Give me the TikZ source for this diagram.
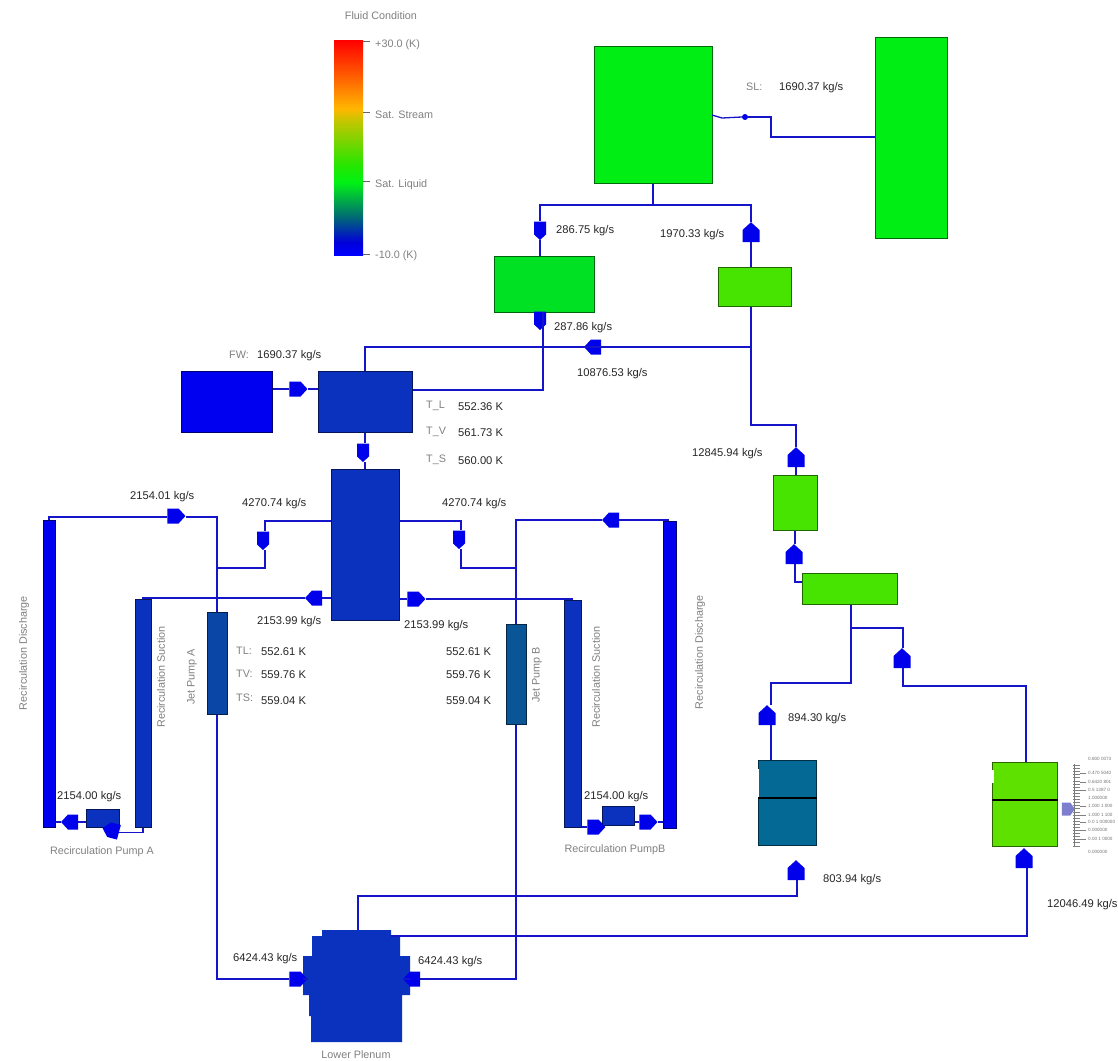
\documentclass[tikz,border=0pt]{standalone}
\usepackage{fontspec}
\setmainfont{Liberation Sans}
\usetikzlibrary{shapes.symbols}
\definecolor{lnblue}{RGB}{20,20,200}
\definecolor{vblue}{RGB}{0,0,235}
\definecolor{grA}{RGB}{0,238,20}
\definecolor{grB}{RGB}{0,225,35}
\definecolor{limeA}{RGB}{70,228,0}
\definecolor{limeB}{RGB}{95,225,0}
\definecolor{pureblue}{RGB}{0,0,240}
\definecolor{dkblue}{RGB}{10,50,190}
\definecolor{jetA}{RGB}{10,70,165}
\definecolor{jetB}{RGB}{10,85,150}
\definecolor{teal1}{RGB}{5,105,150}
\pgfdeclareverticalshading{fluidbar}{100bp}{
 rgb(0bp)=(0,0,1);
 rgb(25bp)=(0,0,1);
 rgb(28bp)=(0,0,0.85);
 rgb(34bp)=(0,0.42,0.45);
 rgb(42bp)=(0,0.95,0.08);
 rgb(46bp)=(0.15,0.9,0);
 rgb(56bp)=(0.75,0.78,0);
 rgb(59bp)=(1,0.72,0);
 rgb(67bp)=(1,0.35,0);
 rgb(75bp)=(1,0,0);
 rgb(100bp)=(1,0,0)}
\tikzset{
 x=1pt,y=-1pt,
 comp/.style={draw=black!55!#1,line width=.6pt,fill=#1,inner sep=0pt,anchor=north west},
 flow/.style={draw=lnblue,line width=1.3pt},
 valve/.style={signal,signal to=#1,signal pointer angle=95,fill=vblue,draw=none,inner sep=0pt},
 vE/.style={valve=east,minimum width=18pt,minimum height=15pt},
 vW/.style={valve=west,minimum width=17pt,minimum height=15pt},
 vN/.style={valve=north,minimum width=17pt,minimum height=12pt,yshift=-3pt},
 vS/.style={valve=south,minimum width=12pt,minimum height=13pt},
 lab/.style={font=\fontsize{10.8}{12}\selectfont,text=black!50,inner sep=0pt},
 labw/.style={lab,anchor=west,yshift=-1.2pt},
 labb/.style={font=\fontsize{11.2}{12}\selectfont,text=black!85,inner sep=0pt,anchor=west,yshift=-1.5pt},
 tiny/.style={font=\fontsize{4.6}{5}\selectfont,text=black!55,inner sep=0pt,anchor=west},
}
\newcommand{\boxat}[6]{\node[comp=#6,minimum width=#4pt-#2pt,minimum height=#5pt-#3pt] (#1) at (#2,#3) {};}
\begin{document}
\begin{tikzpicture}
\useasboundingbox (0,0) rectangle (1118,1060);
% legend
\node[lab] (tFluid) at (381,16) {Fluid Condition};
\node[inner sep=0pt,anchor=north west,minimum width=29pt,minimum height=215pt,shading=fluidbar,draw=none] (bar) at (334,40) {};
\node[labw] (l1) at (375,44) {+30.0 (K)};
\node[labw] (l2) at (375,114) {Sat. Stream};
\node[labw] (l3) at (375,184) {Sat. Liquid};
\node[labw] (l4) at (375,255) {-10.0 (K)};
\draw[black!60,line width=.5pt] (363,41) -- (370,41);
\draw[black!60,line width=.5pt] (363,112) -- (370,112);
\draw[black!60,line width=.5pt] (363,181) -- (370,181);
\draw[black!60,line width=.5pt] (363,254) -- (370,254);
% components
\boxat{sep}{594}{46}{712}{183}{grA}
\boxat{turb}{875}{37}{947}{238}{grA}
\boxat{cA}{494}{256}{594}{312}{grB}
\boxat{cB}{718}{267}{791}{306}{limeA}
\boxat{fw}{181}{371}{272}{432}{pureblue}
\boxat{dome}{318}{371}{412}{432}{dkblue}
\boxat{vess}{331}{469}{399}{620}{dkblue}
\boxat{gA}{773}{475}{817}{530}{limeA}
\boxat{hA}{802}{573}{897}{604}{limeA}
\boxat{jpA}{207}{612}{227}{714}{jetA}
\boxat{jpB}{506}{624}{526}{724}{jetB}
\boxat{disL}{43}{520}{55}{827}{pureblue}
\boxat{sucL}{135}{599}{151}{827}{dkblue}
\boxat{sucR}{564}{600}{581}{827}{dkblue}
\boxat{disR}{663}{521}{676}{828}{pureblue}
\boxat{pumpA}{86}{809}{119}{827}{dkblue}
\boxat{pumpB}{602}{806}{634}{825}{dkblue}
\boxat{tkT}{758}{760}{816}{845}{teal1}
\boxat{tkL}{992}{762}{1057}{846}{limeB}
\draw[black,line width=1.1pt] (tkT.west |- 0,798) -- (tkT.east |- 0,798);
\draw[black,line width=1.1pt] (tkL.west |- 0,800) -- (tkL.east |- 0,800);
\fill[white] (757.5,769) rectangle (759,797);
\fill[white] (991.5,770) rectangle (994,783);
\draw[black!55!dkblue,line width=1pt] (318,371.5) -- (412,371.5);
% lower plenum
\fill[dkblue] (322,930) -- (391,930) -- (391,936) -- (400,936) -- (400,956) -- (410,956) -- (410,995) -- (402,995) -- (402,1042) -- (311,1042) -- (311,1016) -- (309,1016) -- (309,995) -- (303,995) -- (303,956) -- (312,956) -- (312,936) -- (322,936) -- cycle;
\coordinate (plTop) at (358,930);
\coordinate (plRight) at (391,936);
\coordinate (plL) at (303,979);
\coordinate (plR) at (410,979);
% valves
\node[vS] (v1) at (540,228) {};
\node[vN] (v2) at (751,233) {};
\node[vS] (v3) at (540,318) {};
\node[vW] (v4) at (596,347) {};
\node[vE] (vfw) at (295,389) {};
\node[vS] (v5) at (363,450) {};
\node[vN] (v6) at (796,458) {};
\node[vN] (v7) at (794,555) {};
\node[vN] (v8) at (902,659) {};
\node[vN] (v9) at (767,716) {};
\node[vN] (v10) at (796,871) {};
\node[vN] (v11) at (1024,859) {};
\node[vE] (v12) at (173,516) {};
\node[vW] (v13) at (614,520) {};
\node[vS] (v14) at (263,538) {};
\node[vS] (v15) at (459,537) {};
\node[vW] (v16) at (317,598) {};
\node[vE] (v17) at (413,599) {};
\node[vE] (v18) at (295,979) {};
\node[vW] (v19) at (415,979) {};
\node[vW] (v20) at (73,822) {};
\node[vW,rotate=-15] (v21) at (114,831) {};
\node[vE] (v22) at (593,827) {};
\node[vE] (v23) at (645,822) {};
\node[fill=vblue,circle,inner sep=0pt,minimum size=6pt] (v24) at (745,117) {};
% connectors
\draw[flow] (sep.south -| 653,0) |- (540,205) -- (v1.north);
\draw[flow] (v1.south) -- (v1.south |- cA.north);
\draw[flow] (653,205) -| (v2.north);
\draw[flow] (v2.south) -- (v2.south |- cB.north);
\draw[flow] (712,115) -- (722,118) -- (v24.west);
\draw[flow] (v24.east) -- (771,117) |- (turb.west |- 0,137);
\draw[flow] (543,312) -- (543,390) -- (dome.east |- 0,390);
\draw[flow] (dome.north -| 365,0) |- (v4.east);
\draw[flow] (v4.west) -- (543,347);
\draw[flow] (v4.east) -- (751,347);
\draw[flow] (cB.south -| 751,0) -- (751,425) -| (v6.north);
\draw[flow] (v6.south) -- (v6.south |- gA.north);
\draw[flow] (gA.south -| 795,0) -- (v7.north -| 795,0);
\draw[flow] (v7.south -| 795,0) |- (hA.west |- 0,582);
\draw[flow] (hA.south -| 851,0) -- (851,683) -| (v9.north -| 771,0);
\draw[flow] (v9.south -| 771,0) -- (tkT.north -| 771,0);
\draw[flow] (851,628) -| (v8.north -| 903,0);
\draw[flow] (v8.south -| 903,0) |- (1026,686) -- (tkL.north -| 1026,0);
\draw[flow] (plTop) |- (797,896) -- (v10.south -| 797,0);
\draw[flow] (plRight) -| (v11.south -| 1027,0);
\draw[flow] (disL.north -| 49,0) |- (v12.west |- 0,517);
\draw[flow] (v12.east |- 0,517) -- (217,517) -- (jpA.north -| 217,0);
\draw[flow] (jpA.south -| 217,0) |- (v18.west);
\draw[flow] (v18.east) -- (plL);
\draw[flow] (vess.west |- 0,521) -| (v14.north -| 265,0);
\draw[flow] (v14.south -| 265,0) |- (217,568);
\draw[flow] (vess.west |- 0,598) -- (v16.east);
\draw[flow] (v16.west) -| (sucL.north -| 143,0);
\draw[flow] (vess.east |- 0,521) -| (v15.north -| 461,0);
\draw[flow] (v15.south -| 461,0) |- (516,568);
\draw[flow] (vess.east |- 0,599) -- (v17.west);
\draw[flow] (v17.east) -| (sucR.north -| 572,0);
\draw[flow] (jpB.north -| 516,0) |- (v13.west);
\draw[flow] (v13.east) -| (disR.north -| 668,0);
\draw[flow] (jpB.south -| 516,0) |- (v19.east);
\draw[flow] (v19.west) -- (plR);
\draw[flow] (dome.south -| 365,0) -- (v5.north -| 365,0);
\draw[flow] (v5.south -| 365,0) -- (vess.north -| 365,0);
\draw[flow] (fw.east |- 0,389) -- (vfw.west);
\draw[flow] (vfw.east) -- (dome.west |- 0,389);
\draw[flow] (sucL.south -| 143,0) |- (v21.east);
\draw[flow] (v20.east) -- (pumpA.west |- 0,822);
\draw[flow] (v20.west) -- (disL.east |- 0,822);
\draw[flow] (sucR.east |- 0,827) -- (v22.west);
\draw[flow] (pumpB.east |- 0,822) -- (v23.west);
\draw[flow] (v23.east) -- (disR.west |- 0,822);
% sensor ladder
\node[signal,signal to=east,signal pointer angle=110,fill=blue!45!gray!70,inner sep=0pt,minimum width=13pt,minimum height=13pt] (sens) at (1066,809) {};
\draw[black!55,line width=.8pt] (1074,764) -- (1074,847);
\foreach \y in {765,768,771,774,777,781,784,787,790,793,796,799,802,805,808,812,815,818,821,824,827,830,833,836,839,842,846}
  \draw[black!50,line width=.5pt] (1073,\y) -- (1080,\y);
\foreach \y in {773,782,790,806,815,822,830,839}
  \draw[black!50,line width=.5pt] (1080,\y) -- (1086,\y);
\foreach \y/\t in {759/0.800 0073,773/0.470 5040,782/0.6420 801,790/0.5 1387 0,798/1.000000,806/1.000 1 000,815/1.000 1 100,822/0.0 1 000000,830/0.000000,839/0.00 1 0000,852/0.000000}
  \node[tiny] at (1088,\y) {\t};
% texts
\node[labw] at (746,86) {SL:};
\node[labb] at (779,86) {1690.37 kg/s};
\node[labb] at (556,229) {286.75 kg/s};
\node[labb] at (660,233) {1970.33 kg/s};
\node[labb] at (554,326) {287.86 kg/s};
\node[labb] at (577,372) {10876.53 kg/s};
\node[labw] at (229,354) {FW:};
\node[labb] at (257,354) {1690.37 kg/s};
\node[labw] at (426,405) {T\_L};
\node[labw] at (426,431) {T\_V};
\node[labw] at (426,459) {T\_S};
\node[labb] at (458,405) {552.36 K};
\node[labb] at (458,431) {561.73 K};
\node[labb] at (458,459) {560.00 K};
\node[labb] at (692,452) {12845.94 kg/s};
\node[labb] at (130,495) {2154.01 kg/s};
\node[labb] at (242,502) {4270.74 kg/s};
\node[labb] at (442,502) {4270.74 kg/s};
\node[labb] at (257,620) {2153.99 kg/s};
\node[labb] at (404,624) {2153.99 kg/s};
\node[labw] at (236,650) {TL:};
\node[labw] at (236,673) {TV:};
\node[labw] at (236,697) {TS:};
\node[labb] at (261,650) {552.61 K};
\node[labb] at (261,673) {559.76 K};
\node[labb] at (261,699) {559.04 K};
\node[labb] at (446,650) {552.61 K};
\node[labb] at (446,673) {559.76 K};
\node[labb] at (446,699) {559.04 K};
\node[labb] at (788,717) {894.30 kg/s};
\node[labb] at (823,878) {803.94 kg/s};
\node[labb] at (1047,903) {12046.49 kg/s};
\node[labb] at (57,795) {2154.00 kg/s};
\node[labb] at (584,795) {2154.00 kg/s};
\node[labb] at (233,957) {6424.43 kg/s};
\node[labb] at (418,960) {6424.43 kg/s};
\node[lab] at (102,852) {Recirculation Pump A};
\node[lab] at (615,850) {Recirculation PumpB};
\node[lab] at (356,1055) {Lower Plenum};
\node[lab,rotate=90] at (24,653) {Recirculation Discharge};
\node[lab,rotate=90] at (161,677) {Recirculation Suction};
\node[lab,rotate=90] at (192,677) {Jet Pump A};
\node[lab,rotate=90] at (537,675) {Jet Pump B};
\node[lab,rotate=90] at (596,677) {Recirculation Suction};
\node[lab,rotate=90] at (700,652) {Recirculation Discharge};
\end{tikzpicture}
\end{document}
